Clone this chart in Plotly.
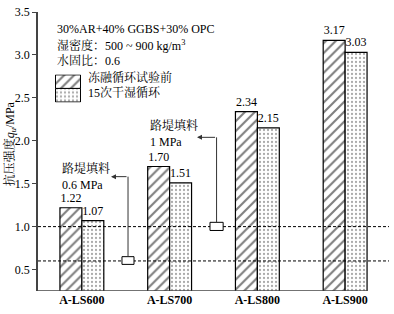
import plotly.graph_objects as go

categories = ["A-LS600", "A-LS700", "A-LS800", "A-LS900"]
before_ft = [1.22, 1.70, 2.34, 3.17]
after_wd = [1.07, 1.51, 2.15, 3.03]
series_names = ["冻融循环试验前", "15次干湿循环"]
y_ticks = [0.5, 1.0, 1.5, 2.0, 2.5, 3.0, 3.5]
threshold_low = 0.6
threshold_high = 1.0

FONT = "Liberation Serif, Noto Serif CJK SC, Noto Sans CJK SC, serif"
HATCH = dict(shape="/", fgcolor="black", bgcolor="white", size=7, solidity=0.3)
DOTS = dict(shape=".", fgcolor="#555", bgcolor="white", size=4, solidity=0.25)

fig = go.Figure()

fig.add_trace(go.Bar(
    x=categories, y=before_ft, name=series_names[0],
    width=0.25, offset=-0.25,
    marker=dict(color="white", line=dict(color="black", width=1.2), pattern=HATCH),
    text=[f"{v:.2f}" for v in before_ft], textposition="outside",
    textfont=dict(family=FONT, size=12, color="black"), cliponaxis=False, showlegend=False,
))
fig.add_trace(go.Bar(
    x=categories, y=after_wd, name=series_names[1],
    width=0.25, offset=0,
    marker=dict(color="white", line=dict(color="black", width=1.2), pattern=DOTS),
    text=[f"{v:.2f}" for v in after_wd], textposition="outside",
    textfont=dict(family=FONT, size=12, color="black"), cliponaxis=False, showlegend=False,
))

# legend swatches on a small auxiliary subplot
fig.add_trace(go.Bar(
    x=[0], y=[1], base=[1], width=1, offset=-0.5, xaxis="x2", yaxis="y2", showlegend=False, hoverinfo="skip",
    marker=dict(color="white", line=dict(color="black", width=1), pattern=HATCH),
))
fig.add_trace(go.Bar(
    x=[0], y=[1], base=[0], width=1, offset=-0.5, xaxis="x2", yaxis="y2", showlegend=False, hoverinfo="skip",
    marker=dict(color="white", line=dict(color="black", width=1), pattern=DOTS),
))

shapes = []
for lvl in (threshold_high, threshold_low):
    shapes.append(dict(type="line", xref="x", yref="y", x0=-0.5, x1=3.5, y0=lvl, y1=lvl,
                       line=dict(color="black", width=1, dash="3px,2px"), layer="above"))
# x axis baseline
shapes.append(dict(type="line", xref="x", yref="y", x0=-0.5, x1=3.25, y0=0.25, y1=0.25,
                   line=dict(color="#444", width=1.5), layer="above"))
# callout boxes and leader lines
shapes.append(dict(type="rect", xref="x", yref="y", x0=0.457, x1=0.594, y0=0.56, y1=0.65,
                   fillcolor="white", line=dict(color="black", width=1), layer="above"))
shapes.append(dict(type="line", xref="x", yref="y", x0=0.526, x1=0.526, y0=0.65, y1=1.582,
                   line=dict(color="#333", width=1)))
shapes.append(dict(type="rect", xref="x", yref="y", x0=1.46, x1=1.61, y0=0.955, y1=1.05,
                   fillcolor="white", line=dict(color="black", width=1), layer="above"))
shapes.append(dict(type="line", xref="x", yref="y", x0=1.535, x1=1.535, y0=1.05, y1=2.04,
                   line=dict(color="#333", width=1)))

ann = []
def txt(x, y, s, size=12):
    ann.append(dict(x=x, y=y, xref="x", yref="y", text=s, showarrow=False, xanchor="left",
                    yanchor="middle", font=dict(family=FONT, size=size, color="black")))

txt(-0.306, 3.305, "30%AR+40% GGBS+30% OPC")
txt(-0.306, 3.109, "湿密度：500 ~ 900 kg/m<sup>3</sup>")
txt(-0.306, 2.937, "水固比：0.6")
txt(0.045, 2.74, series_names[0])
txt(0.045, 2.565, series_names[1])
txt(-0.255, 1.674, "路堤填料")
txt(-0.255, 1.49, "0.6 MPa")
txt(0.75, 2.179, "路堤填料")
txt(0.75, 1.984, "1 MPa")

for tip, corner, yy in ((0.332, 0.526, 1.582), (1.312, 1.535, 2.04)):
    ann.append(dict(x=tip, y=yy, ax=corner, ay=yy, xref="x", yref="y", axref="x", ayref="y",
                    text="", showarrow=True, arrowhead=2, arrowsize=1, arrowwidth=1, arrowcolor="#333"))

ann.append(dict(x=-0.08, y=1.97, xref="paper", yref="y", text="抗压强度<i>q</i><sub><i>u</i></sub>/MPa",
                textangle=-90, showarrow=False, xanchor="center", yanchor="middle",
                font=dict(family=FONT, size=12, color="black")))

fig.update_layout(
    width=394, height=314,
    margin=dict(l=38, r=5, t=8, b=23),
    paper_bgcolor="white", plot_bgcolor="white",
    showlegend=False, barmode="overlay",
    shapes=shapes, annotations=ann,
    xaxis=dict(range=[-0.5, 3.5], categoryorder="array", categoryarray=categories,
               showline=False, showgrid=False, zeroline=False, ticks="",
               tickfont=dict(family=FONT, size=12, color="black", weight="bold")),
    yaxis=dict(range=[0.25, 3.5], tickvals=y_ticks, ticktext=[f"{v:.1f}" for v in y_ticks],
               showline=True, linecolor="#444", linewidth=1.5, showgrid=False, zeroline=False,
               ticks="outside", ticklen=4, tickcolor="#444",
               tickfont=dict(family=FONT, size=12, color="black")),
    xaxis2=dict(domain=[0.0484, 0.1225], range=[-0.52, 0.52], anchor="y2", visible=False, fixedrange=True),
    yaxis2=dict(domain=[0.676, 0.776], range=[-0.03, 2.03], anchor="x2", visible=False, fixedrange=True),
)

fig.write_html("out.html")
